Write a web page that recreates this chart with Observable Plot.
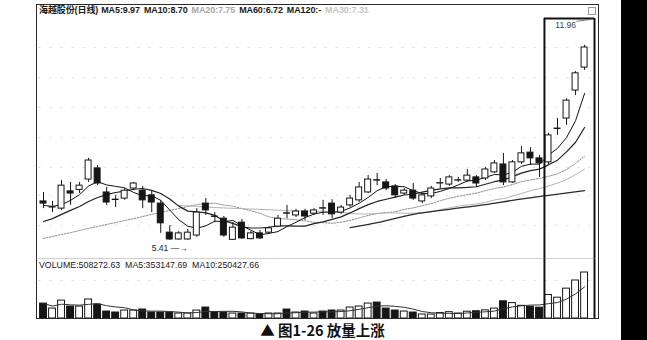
<!DOCTYPE html>
<html><head><meta charset="utf-8">
<script src="https://cdn.jsdelivr.net/npm/d3@7"></script>
<script src="https://cdn.jsdelivr.net/npm/@observablehq/plot@0.6"></script>
<style>
body{margin:0;background:#fff;}
#root{position:relative;width:647px;height:340px;overflow:hidden;background:#fff;font-family:"Liberation Sans",Arial,sans-serif;}
#root svg{background:transparent !important;display:block;}
#frame{position:absolute;left:36px;top:4px;width:563px;height:315px;border:1.5px solid #2a2a2a;box-sizing:border-box;}
#legend{position:absolute;left:39px;top:5px;font-size:9px;line-height:10px;white-space:nowrap;color:#1a1a1a;font-family:"Liberation Sans","Noto Sans CJK SC",sans-serif;font-weight:bold;letter-spacing:-0.1px;}
#legend span{margin-right:4px;}
#vlegend{position:absolute;left:39px;top:260px;font-size:8.8px;line-height:10px;white-space:pre;color:#1a1a1a;}
#caption{position:absolute;left:0;top:320px;width:645px;text-align:center;font-family:"Noto Sans CJK SC",sans-serif;font-weight:bold;font-size:14.5px;line-height:20px;color:#111;white-space:pre;}
#band{position:absolute;left:621px;top:0;width:26px;height:340px;background:#000;}
#icon{position:absolute;left:588px;top:7px;width:6px;height:6px;border:1px solid #999;}
</style></head><body>
<div id="root">
  <div id="main" style="position:absolute;left:0;top:0"></div>
  <div id="vol" style="position:absolute;left:0;top:258px"></div>
  <div id="frame"></div>
  <div id="icon"></div>
  <div id="legend"></div>
  <div id="vlegend"></div>
  <div id="caption"></div>
  <div id="band"></div>
</div>
<script>
// ---- data ----
const opens  = [6.50,6.33,6.30,6.78,6.82,7.11,7.42,6.75,6.55,6.58, 6.86,6.80,6.67,6.44,5.63,5.44,5.44,5.55,6.44,6.08, 6.02,5.43,5.91,5.45,5.61,5.63,5.80,6.17,6.11,6.22, 6.16,6.31,6.44,6.19,6.39,6.53,6.75,7.09,7.03,6.92, 6.72,6.80,6.50,6.64,7.00,6.97,7.08,7.08,7.17,7.14, 7.31,7.53,7.03,7.59,7.86,7.70,7.59,8.52,8.81,9.59,10.23];
const highs  = [6.75,6.50,7.08,7.03,7.03,7.70,7.50,6.89,6.67,6.86, 7.03,6.92,6.80,6.53,5.83,5.66,5.72,6.30,6.58,6.19, 6.08,5.91,6.00,5.66,5.69,5.80,6.11,6.39,6.28,6.28, 6.30,6.53,6.55,6.39,6.67,7.03,7.22,7.28,7.11,6.97, 6.86,7.00,6.72,6.92,7.14,7.22,7.17,7.39,7.22,7.45, 7.64,7.84,7.64,8.03,8.00,7.78,8.40,8.81,9.36,10.12,10.85];
const lows   = [6.30,6.19,6.25,6.39,6.72,7.03,6.94,6.39,6.33,6.53, 6.80,6.30,6.19,5.61,5.41,5.42,5.42,5.50,6.11,5.91, 5.50,5.42,5.44,5.43,5.44,5.58,5.77,6.02,6.05,5.97, 6.11,6.11,6.02,6.14,6.33,6.47,6.72,6.94,6.80,6.58, 6.67,6.53,6.44,6.58,6.86,6.92,7.03,7.03,6.89,7.08, 7.28,6.94,7.00,7.53,7.50,7.17,7.53,8.34,8.62,9.45,10.15];
const closes = [6.44,6.34,6.94,6.72,6.94,7.64,7.00,6.47,6.54,6.80, 7.00,6.53,6.47,5.89,5.44,5.61,5.63,6.19,6.25,6.07, 5.55,5.77,5.47,5.61,5.47,5.75,6.02,6.16,6.22,6.08, 6.25,6.30,6.14,6.33,6.58,6.89,7.11,7.08,6.86,6.67, 6.80,6.58,6.67,6.86,7.01,7.17,7.09,7.22,7.00,7.39, 7.56,7.03,7.59,7.84,7.70,7.56,8.34,8.53,9.31,10.07,10.79];
const volumes = [165000,110000,198000,132000,132000,210000,154000,77000,66000,88000, 88000,99000,66000,66000,66000,55000,55000,88000,121000,66000, 66000,55000,55000,55000,44000,55000,55000,99000,66000,77000, 55000,77000,88000,88000,121000,132000,165000,176000,110000,88000, 77000,66000,44000,44000,60000,70000,55000,75000,80000,90000, 110000,190000,170000,140000,130000,120000,260000,230000,330000,420000,508273];
const ma5  = [6.39,6.36,6.41,6.53,6.69,6.93,7.05,6.96,6.92,6.88, 6.75,6.66,6.66,6.53,6.26,5.99,5.81,5.75,5.82,5.95, 5.94,5.97,5.82,5.70,5.57,5.61,5.66,5.80,5.92,6.05, 6.15,6.20,6.20,6.22,6.32,6.45,6.61,6.80,6.91,6.92, 6.91,6.80,6.72,6.72,6.78,6.86,6.96,7.07,7.09,7.17, 7.25,7.24,7.31,7.48,7.54,7.54,7.79,7.98,8.28,8.75,9.51];
const ma10 = [5.94,6.02,6.14,6.25,6.36,6.50,6.61,6.69,6.75,6.79, 6.84,6.86,6.81,6.72,6.57,6.37,6.23,6.21,6.18,6.11, 5.96,5.89,5.79,5.76,5.76,5.78,5.82,5.82,5.81,5.81, 5.88,5.93,6.00,6.07,6.18,6.30,6.41,6.50,6.56,6.62, 6.68,6.70,6.76,6.81,6.85,6.88,6.88,6.89,6.91,6.98, 7.05,7.10,7.19,7.29,7.36,7.40,7.52,7.65,7.88,8.15,8.56];
const ma20 = [5.47,5.52,5.58,5.63,5.69,5.75,5.80,5.86,5.91,5.97, 6.02,6.08,6.14,6.19,6.25,6.30,6.36,6.41,6.44,6.45, 6.40,6.37,6.30,6.24,6.17,6.07,6.02,6.01,5.99,5.96, 5.92,5.91,5.89,5.92,5.97,6.04,6.11,6.16,6.19,6.21, 6.28,6.32,6.38,6.44,6.52,6.59,6.64,6.69,6.73,6.80, 6.86,6.90,6.97,7.05,7.10,7.14,7.20,7.27,7.39,7.56,7.76];
const ma30Idx = [16,20,25,30,31,32,33,34,35,36,37,38,39,40,41,42,43,44,45,46,47,48,49,50,51,52,53,54,55,56,57,58,59,60,61];
const ma30Val = [6.39,6.33,6.28,6.23,6.23,6.23,6.20,6.19,6.17,6.15,6.15,6.17,6.18,6.18,6.17,6.17,6.18,6.21,6.27,6.32,6.37,6.40,6.43,6.47,6.54,6.58,6.65,6.72,6.80,6.86,6.93,7.01,7.11,7.25,7.40];
const ma60Idx = [35,38,42,46,50,53,57,61];
const ma60Val = [5.77,5.91,6.14,6.28,6.41,6.53,6.67,6.80];
const gridPrices = [5.83,6.67,7.45,8.28,9.12,9.95,10.79];
const gridVolumes = [420000];
const priceDomain = [4.91, 11.96];
const lowLabel = "5.41";
const highLabel = "11.96";
const boxFirst = 57, boxLast = 61, boxTop = 11.60;
const titleName = "海越股份(日线)";
const maLegend = [["MA5:9.97","#1a1a1a"],["MA10:8.70","#1a1a1a"],["MA20:7.75","#a8a8a8"],["MA60:6.72","#1a1a1a"],["MA120:-","#1a1a1a"],["MA30:7.31","#c4c4c4"]];
const volLegend = "VOLUME:508272.63  MA5:353147.69  MA10:250427.66";
const captionText = "▲ 图1-26 放量上涨";

// ---- tables ----
const rows = closes.map((c, k) => ({i: k + 1, open: opens[k], high: highs[k], low: lows[k], close: c,
  volume: volumes[k], ma5: ma5[k], ma10: ma10[k], ma20: ma20[k], up: c >= opens[k]}));
const ma30 = ma30Idx.map((i, k) => ({i, v: ma30Val[k]}));
const ma60 = ma60Idx.map((i, k) => ({i, v: ma60Val[k]}));
const lowRow = rows.reduce((a, b) => (b.low < a.low ? b : a));
const boxX = [boxFirst - 0.45, boxLast + 1.1];
const xDomain = [0.5, boxLast + 1.1];
const ink = "#161616";

const main = Plot.plot({
  width: 647, height: 258, marginLeft: 38.5, marginRight: 53, marginTop: 5, marginBottom: 0,
  style: {background: "transparent", overflow: "visible"},
  x: {type: "linear", domain: xDomain, axis: null},
  y: {domain: priceDomain, axis: null},
  marks: [
    Plot.ruleY(gridPrices, {stroke: "#c8c8c8", strokeWidth: 0.7, strokeDasharray: "2,9"}),
    Plot.ruleY([priceDomain[0]], {stroke: "#cfcfcf", strokeWidth: 1}),
    Plot.line(ma20.map((v, k) => ({i: k + 1, v})), {x: "i", y: "v", stroke: "#8c8c8c", strokeWidth: 1, strokeDasharray: "1.6,1.4"}),
    Plot.line(ma30, {x: "i", y: "v", stroke: "#b4b4b4", strokeWidth: 1, curve: "monotone-x"}),
    Plot.line(ma60, {x: "i", y: "v", stroke: "#2a2a2a", strokeWidth: 1.3, curve: "monotone-x"}),
    Plot.line(rows, {x: "i", y: "ma10", stroke: "#222", strokeWidth: 1.2}),
    Plot.line(rows, {x: "i", y: "ma5", stroke: "#111", strokeWidth: 1}),
    Plot.ruleX(rows, {x: "i", y1: "low", y2: "high", stroke: ink, strokeWidth: 1}),
    Plot.rect(rows, {x1: d => d.i - 0.33, x2: d => d.i + 0.33, y1: "open", y2: "close",
      fill: d => d.up ? "#fff" : ink, stroke: ink, strokeWidth: 1}),
    Plot.text([lowRow], {x: "i", y: "low", text: () => lowLabel + " —→", dy: 8, dx: -18, textAnchor: "start",
      fontSize: 8.5, fill: "#222", fontFamily: "Liberation Sans, Arial, sans-serif"}),
    Plot.ruleX(boxX, {y1: priceDomain[0], y2: boxTop, stroke: "#111", strokeWidth: 2}),
    Plot.ruleY([boxTop], {x1: boxX[0], x2: boxX[1], stroke: "#111", strokeWidth: 2}),
    Plot.text([highLabel], {x: boxLast - 2.1, y: boxTop, text: d => d, dy: 4, lineAnchor: "top",
      fontSize: 8.5, fill: "#444", fontFamily: "Liberation Sans, Arial, sans-serif"}),
    Plot.link([0], {x1: boxLast - 0.9, y1: boxTop - 0.08, x2: boxLast + 0.9, y2: boxTop - 0.02, stroke: "#777", strokeWidth: 1})
  ]
});
document.getElementById("main").append(main);

const vol = Plot.plot({
  width: 647, height: 62, marginLeft: 38.5, marginRight: 53, marginTop: 14, marginBottom: 2,
  style: {background: "transparent", overflow: "visible"},
  x: {type: "linear", domain: xDomain, axis: null},
  y: {domain: [0, d3.max(volumes)], axis: null},
  marks: [
    Plot.ruleY(gridVolumes, {stroke: "#c8c8c8", strokeWidth: 0.7, strokeDasharray: "2,9"}),
    Plot.rectY(rows, {x1: d => d.i - 0.38, x2: d => d.i + 0.38, y: "volume",
      fill: d => d.up ? "#fff" : ink, stroke: ink, strokeWidth: 1}),
    Plot.lineY(rows, Plot.windowY({k: 5, anchor: "end"}, {x: "i", y: "volume", stroke: "#333", strokeWidth: 1})),
    Plot.ruleX(boxX, {y1: 0, y2: d3.max(volumes) * 1.3, stroke: "#111", strokeWidth: 2})
  ]
});
document.getElementById("vol").append(vol);

// legends
const lg = document.getElementById("legend");
const t = document.createElement("span"); t.textContent = titleName; t.style.marginRight = "3px"; lg.append(t);
for (const [txt, col] of maLegend) { const s = document.createElement("span"); s.textContent = txt; s.style.color = col; lg.append(s); }
document.getElementById("vlegend").textContent = volLegend;
document.getElementById("caption").textContent = captionText;
</script>
</body></html>
